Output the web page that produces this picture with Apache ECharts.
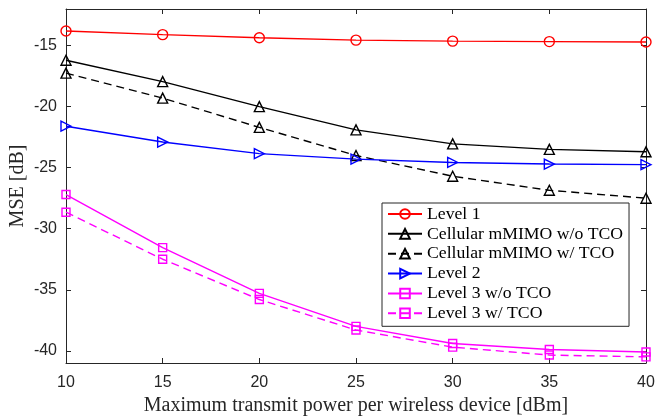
<!DOCTYPE html>
<html><head><meta charset="utf-8">
<script src="https://cdn.jsdelivr.net/npm/echarts@6/dist/echarts.min.js"></script>
<style>html,body{margin:0;padding:0;background:#fff}#c{width:656px;height:417px}</style>
</head><body><div id="c"></div>
<script>
const xValues = [10, 15, 20, 25, 30, 35, 40];
const level1 = [-13.8, -14.1, -14.35, -14.55, -14.63, -14.67, -14.7];
const cellWo = [-16.2, -17.95, -20.0, -21.9, -23.05, -23.5, -23.7];
const cellW = [-17.25, -19.3, -21.7, -24.0, -25.7, -26.85, -27.5];
const level2 = [-21.6, -22.9, -23.85, -24.3, -24.57, -24.7, -24.75];
const level3Wo = [-27.2, -31.55, -35.3, -38.0, -39.4, -39.9, -40.1];
const level3W = [-28.65, -32.5, -35.8, -38.3, -39.7, -40.35, -40.5];
const yTicks = [-40, -35, -30, -25, -20, -15];
const names = ['Level 1', 'Cellular mMIMO w/o TCO', 'Cellular mMIMO w/ TCO', 'Level 2', 'Level 3 w/o TCO', 'Level 3 w/ TCO'];

const pair = arr => xValues.map((x, i) => [x, arr[i]]);
const axisCol = '#262626';
const serif = '"Liberation Serif", "DejaVu Serif", serif';
const sans = '"Liberation Sans", Arial, sans-serif';

function mk(name, data, color, symbol, dashed, rot, size) {
  return {
    name, type: 'line', data: pair(data), xAxisIndex: 0, yAxisIndex: 0,
    symbol, symbolSize: size, symbolRotate: rot || 0, showSymbol: true,
    itemStyle: { color: 'transparent', borderColor: color, borderWidth: 1.4 },
    lineStyle: { color, width: 1.4, type: dashed ? [8, 5] : 'solid' },
    emphasis: { disabled: true }, animation: false
  };
}

const chart = echarts.init(document.getElementById('c'), null, { renderer: 'canvas' });
chart.setOption({
  animation: false,
  grid: { left: 66, right: 10, top: 9, bottom: 54, show: false, containLabel: false, outerBoundsMode: 'none' },
  legend: {
    orient: 'vertical', left: 382, top: 203,
    backgroundColor: '#fff', borderColor: '#262626', borderWidth: 1,
    padding: [2, 6, 4, 5], itemWidth: 34, itemHeight: 12, itemGap: 1.86,
    textStyle: { fontFamily: serif, fontSize: 17.7, lineHeight: 18, color: '#000' },
    data: names
  },
  xAxis: [{
    type: 'value', min: 10, max: 40, interval: 5, position: 'bottom',
    name: 'Maximum transmit power per wireless device [dBm]', nameLocation: 'middle', nameGap: 31,
    nameTextStyle: { fontFamily: serif, fontSize: 20, color: axisCol },
    axisLine: { show: true, lineStyle: { color: axisCol, width: 1 } },
    axisTick: { show: true, inside: true, length: 5, lineStyle: { color: axisCol } },
    axisLabel: { fontFamily: sans, fontSize: 16, color: axisCol, margin: 12 },
    splitLine: { show: false }
  }, {
    type: 'value', min: 10, max: 40, interval: 5, position: 'top',
    axisLine: { show: true, lineStyle: { color: axisCol, width: 1 } },
    axisTick: { show: true, inside: true, length: 5, lineStyle: { color: axisCol } },
    axisLabel: { show: false }, splitLine: { show: false }
  }],
  yAxis: [{
    type: 'value', min: -41, max: -12, position: 'left',
    name: 'MSE [dB]', nameLocation: 'middle', nameGap: 38, nameRotate: 90, nameMoveOverlap: false,
    nameTextStyle: { fontFamily: serif, fontSize: 20, color: axisCol },
    axisLine: { show: true, lineStyle: { color: axisCol, width: 1 } },
    axisTick: { show: true, inside: true, length: 5, customValues: yTicks, lineStyle: { color: axisCol } },
    axisLabel: { fontFamily: sans, fontSize: 16, color: axisCol, margin: 9, customValues: yTicks },
    splitLine: { show: false }
  }, {
    type: 'value', min: -41, max: -12, position: 'right',
    axisLine: { show: true, lineStyle: { color: axisCol, width: 1 } },
    axisTick: { show: true, inside: true, length: 5, customValues: yTicks, lineStyle: { color: axisCol } },
    axisLabel: { show: false }, splitLine: { show: false }
  }],
  series: [
    mk(names[0], level1, '#ff0000', 'circle', false, 0, 10),
    mk(names[1], cellWo, '#000000', 'triangle', false, 0, 10),
    mk(names[2], cellW, '#000000', 'triangle', true, 0, 10),
    mk(names[3], level2, '#0000ff', 'triangle', false, -90, 10),
    mk(names[4], level3Wo, '#ff00ff', 'rect', false, 0, 8),
    mk(names[5], level3W, '#ff00ff', 'rect', true, 0, 8)
  ]
});
</script></body></html>
